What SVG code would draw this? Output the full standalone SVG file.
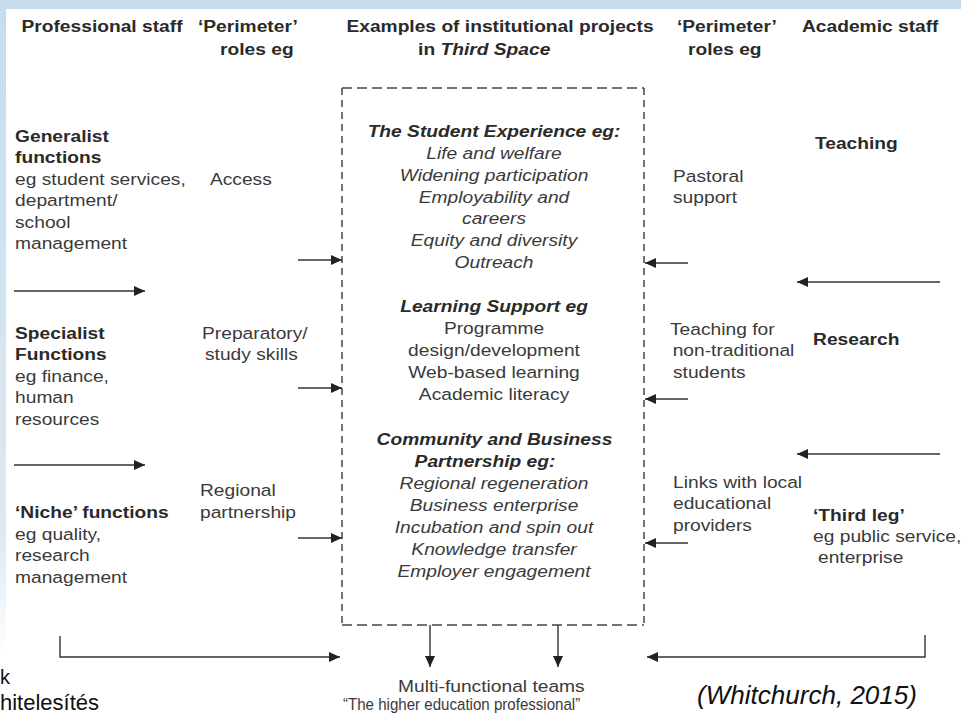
<svg xmlns="http://www.w3.org/2000/svg" width="961" height="714" viewBox="0 0 961 714">
<style>
.t{font-family:"Liberation Sans",Arial,sans-serif;font-size:17px;fill:#3a3a3a}
.b{font-weight:bold;fill:#2a2a2a}
.i{font-style:italic}
.c{text-anchor:middle}
.ln{stroke:#333;stroke-width:1.4;fill:none}
.dh{stroke:#444;stroke-width:1.5;stroke-dasharray:10 5;fill:none}
.dv{stroke:#444;stroke-width:1.5;stroke-dasharray:7 5;fill:none}
.cap{font-family:"Liberation Sans",Arial,sans-serif;fill:#111}
</style>
<defs>
<marker id="ah" markerUnits="userSpaceOnUse" markerWidth="12" markerHeight="10" refX="11" refY="5" orient="auto">
<path d="M0,0 L11,5 L0,10 Z" fill="#222"/>
</marker>
<linearGradient id="lg" x1="0" y1="0" x2="0" y2="1">
<stop offset="0" stop-color="#c6dcec"/>
<stop offset="0.75" stop-color="#dce9f3"/>
<stop offset="0.92" stop-color="#ffffff"/>
</linearGradient>
</defs>
<rect width="961" height="714" fill="#ffffff"/>
<rect x="0" y="0" width="961" height="9" fill="#c6dcec"/>
<rect x="0" y="0" width="6" height="714" fill="url(#lg)"/>

<g id="box">
<line class="dh" x1="342" y1="88" x2="644" y2="88"/>
<line class="dh" x1="342" y1="625" x2="644" y2="625"/>
<line class="dv" x1="342" y1="88" x2="342" y2="625"/>
<line class="dv" x1="644" y1="88" x2="644" y2="625"/>
</g>

<g id="connectors">
<line class="ln" x1="14" y1="291" x2="145" y2="291" marker-end="url(#ah)"/>
<line class="ln" x1="14" y1="465" x2="145" y2="465" marker-end="url(#ah)"/>
<line class="ln" x1="298" y1="260" x2="342" y2="260" marker-end="url(#ah)"/>
<line class="ln" x1="298" y1="388" x2="342" y2="388" marker-end="url(#ah)"/>
<line class="ln" x1="298" y1="538" x2="342" y2="538" marker-end="url(#ah)"/>
<line class="ln" x1="688" y1="263" x2="645" y2="263" marker-end="url(#ah)"/>
<line class="ln" x1="688" y1="399" x2="645" y2="399" marker-end="url(#ah)"/>
<line class="ln" x1="688" y1="543" x2="645" y2="543" marker-end="url(#ah)"/>
<line class="ln" x1="940" y1="282" x2="797" y2="282" marker-end="url(#ah)"/>
<line class="ln" x1="940" y1="454" x2="797" y2="454" marker-end="url(#ah)"/>
<polyline class="ln" points="60,636 60,657 340,657" marker-end="url(#ah)"/>
<polyline class="ln" points="925,635 925,657 647,657" marker-end="url(#ah)"/>
<line class="ln" x1="430" y1="625" x2="430" y2="667" marker-end="url(#ah)"/>
<line class="ln" x1="558" y1="625" x2="558" y2="667" marker-end="url(#ah)"/>
</g>

<g transform="scale(1.13 1)">
<g id="headers">
<text class="t b" x="19" y="32">Professional staff</text>
<text class="t b" x="175.2" y="32">‘Perimeter’</text>
<text class="t b" x="194.7" y="55">roles eg</text>
<text class="t b c" x="442.5" y="32">Examples of institutional projects</text>
<text class="t b c" x="428.5" y="55">in <tspan class="i">Third Space</tspan></text>
<text class="t b" x="599.1" y="32">‘Perimeter’</text>
<text class="t b" x="608.8" y="55">roles eg</text>
<text class="t b" x="709.7" y="32">Academic staff</text>
</g>
<g id="generalist">
<text class="t b" x="13.3" y="142">Generalist</text>
<text class="t b" x="13.3" y="163.5">functions</text>
<text class="t" x="13.3" y="185">eg student services,</text>
<text class="t" x="13.3" y="206.5">department/</text>
<text class="t" x="13.3" y="228">school</text>
<text class="t" x="13.3" y="249.5">management</text>
</g>
<g id="access"><text class="t" x="185.8" y="185">Access</text></g>
<g id="specialist">
<text class="t b" x="13.3" y="339">Specialist</text>
<text class="t b" x="13.3" y="360.5">Functions</text>
<text class="t" x="13.3" y="382">eg finance,</text>
<text class="t" x="13.3" y="403.5">human</text>
<text class="t" x="13.3" y="425">resources</text>
</g>
<g id="preparatory">
<text class="t" x="178.8" y="339">Preparatory/</text>
<text class="t" x="181.4" y="360.5">study skills</text>
</g>
<g id="niche">
<text class="t b" x="13.3" y="518">‘Niche’ functions</text>
<text class="t" x="13.3" y="540">eg quality,</text>
<text class="t" x="13.3" y="561.5">research</text>
<text class="t" x="13.3" y="583">management</text>
</g>
<g id="regional">
<text class="t" x="177" y="496.5">Regional</text>
<text class="t" x="177" y="518">partnership</text>
</g>
<g id="third-space">
<text class="t b i c" x="437.2" y="137">The Student Experience eg:</text>
<text class="t i c" x="437.2" y="159">Life and welfare</text>
<text class="t i c" x="437.2" y="181">Widening participation</text>
<text class="t i c" x="437.2" y="203">Employability and</text>
<text class="t i c" x="437.2" y="224.5">careers</text>
<text class="t i c" x="437.2" y="246.5">Equity and diversity</text>
<text class="t i c" x="437.2" y="268">Outreach</text>
<text class="t b i c" x="437.2" y="312">Learning Support eg</text>
<text class="t c" x="437.2" y="334">Programme</text>
<text class="t c" x="437.2" y="356.5">design/development</text>
<text class="t c" x="437.2" y="378.5">Web-based learning</text>
<text class="t c" x="437.2" y="400.5">Academic literacy</text>
<text class="t b i c" x="437.6" y="445">Community and Business</text>
<text class="t b i c" x="429.2" y="467">Partnership eg:</text>
<text class="t i c" x="437.2" y="489">Regional regeneration</text>
<text class="t i c" x="437.2" y="511">Business enterprise</text>
<text class="t i c" x="437.2" y="533">Incubation and spin out</text>
<text class="t i c" x="437.2" y="555">Knowledge transfer</text>
<text class="t i c" x="437.2" y="577">Employer engagement</text>
</g>
<g id="pastoral">
<text class="t" x="595.6" y="182">Pastoral</text>
<text class="t" x="595.6" y="203">support</text>
</g>
<g id="teaching"><text class="t b" x="721.2" y="149">Teaching</text></g>
<g id="non-traditional">
<text class="t" x="592.9" y="335">Teaching for</text>
<text class="t" x="595.3" y="356.5">non-traditional</text>
<text class="t" x="595.6" y="378">students</text>
</g>
<g id="research"><text class="t b" x="719.5" y="345">Research</text></g>
<g id="links">
<text class="t" x="595.6" y="488">Links with local</text>
<text class="t" x="595.6" y="509.5">educational</text>
<text class="t" x="595.6" y="531">providers</text>
</g>
<g id="third-leg">
<text class="t b" x="719.5" y="521">‘Third leg’</text>
<text class="t" x="719.5" y="542">eg public service,</text>
<text class="t" x="723.9" y="563">enterprise</text>
</g>
<g id="teams">
<text class="t" x="352.2" y="692">Multi-functional teams</text>
<text class="t" x="303.5" y="710" font-size="16" textLength="210" lengthAdjust="spacingAndGlyphs">“The higher education professional”</text>
</g>
</g>

<g id="citation">
<text class="cap" x="697" y="704" font-size="25" font-style="italic" textLength="220" lengthAdjust="spacingAndGlyphs">(Whitchurch, 2015)</text>
</g>
<g id="fragment">
<text class="cap" x="0" y="684" font-size="20">k</text>
<text class="cap" x="0" y="710" font-size="22">hitelesítés</text>
</g>
</svg>
